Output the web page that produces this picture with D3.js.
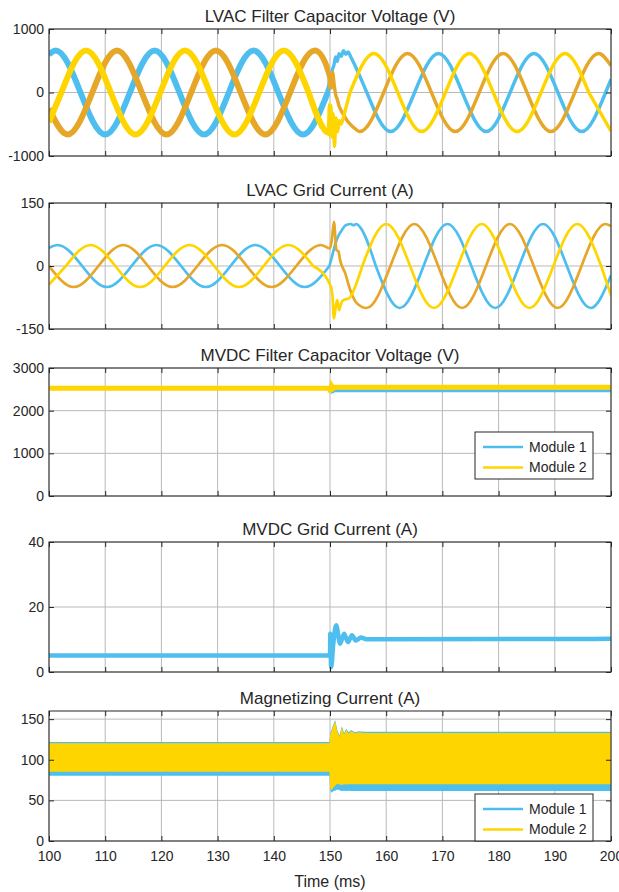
<!DOCTYPE html>
<html><head><meta charset="utf-8">
<script src="https://cdn.jsdelivr.net/npm/d3@7"></script>
<style>
body{margin:0;background:#fff;}
svg{display:block;}
text{font-family:"Liberation Sans",Arial,Helvetica,sans-serif;fill:#262626;}
</style>
</head><body>
<svg id="c" width="619" height="892"></svg>
<script>
// ---------------- DATA ----------------
const titles = ["LVAC Filter Capacitor Voltage (V)","LVAC Grid Current (A)","MVDC Filter Capacitor Voltage (V)","MVDC Grid Current (A)","Magnetizing Current (A)"];
const xTicks = [100,110,120,130,140,150,160,170,180,190,200];
const xLabel = "Time (ms)";
const yTicks1 = [-1000,0,1000];
const yTicks2 = [-150,0,150];
const yTicks3 = [0,1000,2000,3000];
const yTicks4 = [0,20,40];
const yTicks5 = [0,50,100,150];
const legendNames = ["Module 1","Module 2"];

// Panel 1: LVAC filter capacitor voltage (three phases), key points
const vBlueT = [100,101.2,105.6,110.0,114.4,118.8,123.2,127.6,132.0,136.4,140.8,145.2,149.6,150.0,150.4,150.7,151.0,151.3,151.6,152.0,152.4,152.8,153.2,153.7,156.55,160.8,165.05,169.3,173.55,177.8,182.05,186.3,190.55,194.8,199.05,200];
const vBlueV = [600,660,0,-660,0,660,0,-660,0,660,0,-660,0,110,350,430,560,490,610,570,660,600,640,560,0,-615,0,615,0,-615,0,615,0,-615,0,210];
const vOrangeT = [100,103.3,107.7,112.1,116.5,120.9,125.3,129.7,134.1,138.5,142.9,147.3,150.0,150.25,150.45,150.75,151.0,151.3,151.6,152.2,153.1,154.2,155.3,159.55,163.8,168.05,172.3,176.55,180.8,185.05,189.3,193.55,197.8,200];
const vOrangeV = [-253,-660,0,660,0,-660,0,660,0,-660,0,660,250,70,320,120,-30,-110,-210,-320,-450,-550,-615,0,615,0,-615,0,615,0,-615,0,615,420];
const vYellowT = [100,102.2,106.6,111.0,115.4,119.8,124.2,128.6,133.0,137.4,141.8,146.2,149.9,150.15,150.35,150.55,150.8,151.05,151.35,151.65,151.95,152.3,152.8,153.55,157.8,162.05,166.3,170.55,174.8,179.05,183.3,187.55,191.8,196.05,200];
const vYellowV = [-467,0,660,0,-660,0,660,0,-660,0,660,0,-640,-200,-700,-330,-850,-400,-620,-440,-500,-420,-250,0,615,0,-615,0,615,0,-615,0,615,0,-610];

// Panel 2: LVAC grid current
const iBlueT = [100,101.5,105.9,110.3,114.7,119.1,123.5,127.9,132.3,136.7,141.1,145.5,149.9,150.5,151.0,151.5,152.0,152.6,153.2,153.7,154.2,154.7,155.2,158.15,162.4,166.65,170.9,175.15,179.4,183.65,187.9,192.15,196.4,200];
const iBlueV = [43,50,0,-50,0,50,0,-50,0,50,0,-50,0,30,55,72,83,95,99,100,97,100,95,0,-100,0,100,0,-100,0,100,0,-100,-22];
const iOrangeT = [100,104.4,108.8,113.2,117.6,122.0,126.4,130.8,135.2,139.6,144.0,148.4,150.0,150.35,150.7,151.15,151.5,151.8,152.7,153.6,154.8,156.5,160.75,165.0,169.25,173.5,177.75,182.0,186.25,190.5,194.75,199.0,200];
const iOrangeV = [0,-50,0,50,0,-50,0,50,0,-50,0,50,42,65,105,38,35,14,-17,-57,-89,-100,0,100,0,-100,0,100,0,-100,0,100,95];
const iYellowT = [100,103.0,107.4,111.8,116.2,120.6,125.0,129.4,133.8,138.2,142.6,147.0,150.0,150.4,150.7,151.1,151.3,151.6,151.9,152.2,152.8,153.4,154.6,155.75,160.0,164.25,168.5,172.75,177.0,181.25,185.5,189.75,194.0,198.25,200];
const iYellowV = [-44,0,50,0,-50,0,50,0,-50,0,50,0,-44,-65,-125,-90,-81,-105,-93,-83,-79,-77,-45,0,100,0,-100,0,100,0,-100,0,100,0,-70];

// Panel 3: MVDC filter capacitor voltage
const dcV1T = [100,150,150.15,150.4,150.8,200];
const dcV1 = [2520,2520,2580,2440,2465,2465];
const dcV2T = [100,149.9,150.1,150.3,150.6,151,200];
const dcV2 = [2525,2525,2440,2580,2520,2550,2550];

// Panel 4: MVDC grid current
const dcIT = [100,150,150.05,150.2,150.6,151.1,151.8,152.5,153.2,153.9,154.6,155.5,156.5,200];
const dcI = [5.1,5.1,11.8,1.5,9,14.4,8.7,11.8,9.2,11.3,9.7,10.6,10.1,10.2];

// Panel 5: magnetizing current envelopes
const magT = [100,149.9,150.05,150.3,150.6,150.9,151.3,151.7,152.1,152.5,152.9,153.3,153.8,154.4,155.2,156.0,200];
const mag1Hi = [121.8,121.8,133,137.5,143.5,148.8,136.5,130,141.2,133,138.2,133.8,136.6,134,135,134.5,134.5];
const mag1Lo = [80.3,80.3,62,59.5,61.5,62,63.5,62.5,61.5,62,61.5,62,61.5,61.5,61.5,61.5,61.5];
const mag2Hi = [120.3,120.3,131,136,142,147.5,135,128,140,131,137,132,135.5,132.5,134,133,133];
const mag2Lo = [85.3,85.3,64,62.5,66,68,70.5,69.5,69,70,69.5,70,69.8,69.8,69.8,69.8,69.8];

// ---------------- STYLE / LAYOUT ----------------
const colBlue = "#4DBEEE", colOrange = "#E6A628", colYellow = "#FFD500";
const gridCol = "#b9b9b9";
const X0 = 49, X1 = 611;
const layout = [
  {top:29,bottom:156,domain:[-1000,1000],ticks:yTicks1},
  {top:203,bottom:329,domain:[-150,150],ticks:yTicks2},
  {top:368,bottom:496,domain:[0,3000],ticks:yTicks3},
  {top:542,bottom:672,domain:[0,40],ticks:yTicks4},
  {top:711,bottom:841,domain:[0,160],ticks:yTicks5}
];

const svg = d3.select("#c");
svg.append("rect").attr("width",619).attr("height",892).attr("fill","#fff");
const x = d3.scaleLinear().domain([100,200]).range([X0,X1]);
const defs = svg.append("defs");

function wavePath(y,T,V){
  const pts = T.map((t,k)=>[t,V[k]]);
  const zeros = pts.map((p,k)=>p[1]===0?k:-1).filter(k=>k>=0);
  const i0 = zeros[0], iZ = zeros[zeros.length-1];
  const iA = zeros.filter(k=>pts[k][0]<=150).pop();
  const iB = zeros.find(k=>pts[k][0]>=153);
  const nat = d3.line().x(d=>x(d[0])).y(d=>y(d[1])).curve(d3.curveNatural);
  const mon = d3.line().x(d=>x(d[0])).y(d=>y(d[1])).curve(d3.curveMonotoneX);
  const parts = [
    [mon, pts.slice(0,i0+1)],
    [nat, pts.slice(i0,iA+1)],
    [mon, pts.slice(iA,iB+1)],
    [nat, pts.slice(iB,iZ+1)],
    [mon, pts.slice(iZ)]
  ];
  return parts.filter(p=>p[1].length>1).map(p=>p[0](p[1])).join("");
}

const scales = [];
layout.forEach((L,i)=>{
  const y = d3.scaleLinear().domain(L.domain).range([L.bottom,L.top]);
  scales.push(y);
  defs.append("clipPath").attr("id","clip"+i).append("rect")
    .attr("x",X0).attr("y",L.top).attr("width",X1-X0).attr("height",L.bottom-L.top);
  defs.append("clipPath").attr("id","pre"+i).append("rect")
    .attr("x",X0).attr("y",L.top).attr("width",x(150)-X0).attr("height",L.bottom-L.top);
  const g = svg.append("g");
  g.append("g").selectAll("line").data(xTicks).join("line")
    .attr("x1",d=>x(d)).attr("x2",d=>x(d)).attr("y1",L.top).attr("y2",L.bottom)
    .attr("stroke",gridCol).attr("stroke-width",1);
  g.append("g").selectAll("line").data(L.ticks).join("line")
    .attr("x1",X0).attr("x2",X1).attr("y1",d=>y(d)).attr("y2",d=>y(d))
    .attr("stroke",gridCol).attr("stroke-width",1);
  L.g = g;
  svg.append("text").attr("x",(X0+X1)/2).attr("y",L.top-7).attr("text-anchor","middle")
    .attr("font-size",17).text(titles[i]);
});

// ---- Panel 1 ----
(function(){
  const y = scales[0], g = layout[0].g.append("g");
  [[vBlueT,vBlueV,colBlue],[vOrangeT,vOrangeV,colOrange],[vYellowT,vYellowV,colYellow]].forEach(s=>{
    const d = wavePath(y,s[0],s[1]);
    g.append("path").attr("d",d).attr("fill","none").attr("stroke",s[2]).attr("stroke-width",3.4)
      .attr("stroke-linejoin","round").attr("clip-path","url(#clip0)");
    g.append("path").attr("d",d).attr("fill","none").attr("stroke",s[2]).attr("stroke-width",6)
      .attr("stroke-linejoin","round").attr("clip-path","url(#pre0)");
  });
})();

// ---- Panel 2 ----
(function(){
  const y = scales[1], g = layout[1].g.append("g");
  [[iBlueT,iBlueV,colBlue],[iOrangeT,iOrangeV,colOrange],[iYellowT,iYellowV,colYellow]].forEach(s=>{
    g.append("path").attr("d",wavePath(y,s[0],s[1])).attr("fill","none").attr("stroke",s[2])
      .attr("stroke-width",2.7).attr("stroke-linejoin","round").attr("clip-path","url(#clip1)");
  });
})();

// ---- Panel 3 ----
(function(){
  const y = scales[2], g = layout[2].g.append("g").attr("clip-path","url(#clip2)");
  const ln = d3.line().x(d=>x(d[0])).y(d=>y(d[1]));
  g.append("path").attr("d",ln(dcV1T.map((t,k)=>[t,dcV1[k]]))).attr("fill","none").attr("stroke",colBlue).attr("stroke-width",3);
  g.append("path").attr("d",ln(dcV2T.map((t,k)=>[t,dcV2[k]]))).attr("fill","none").attr("stroke",colYellow).attr("stroke-width",5);
})();

// ---- Panel 4 ----
(function(){
  const y = scales[3], g = layout[3].g.append("g").attr("clip-path","url(#clip3)");
  const ln = d3.line().x(d=>x(d[0])).y(d=>y(d[1])).curve(d3.curveMonotoneX);
  g.append("path").attr("d",ln(dcIT.map((t,k)=>[t,dcI[k]]))).attr("fill","none").attr("stroke",colBlue).attr("stroke-width",4.5);
})();

// ---- Panel 5 ----
(function(){
  const y = scales[4], g = layout[4].g.append("g").attr("clip-path","url(#clip4)");
  const ar = (hi,lo)=>d3.area().x(d=>x(d)).y0((d,k)=>y(lo[k])).y1((d,k)=>y(hi[k]));
  g.append("path").attr("d",ar(mag1Hi,mag1Lo)(magT)).attr("fill",colBlue);
  g.append("path").attr("d",ar(mag2Hi,mag2Lo)(magT)).attr("fill",colYellow);
})();

// ---- axes, boxes ----
layout.forEach((L,i)=>{
  const y = scales[i];
  const ax = svg.append("g");
  ax.append("g").attr("transform",`translate(${X0},0)`)
    .call(d3.axisLeft(y).tickValues(L.ticks).tickSize(-5).tickPadding(5).tickFormat(d=>String(d)));
  ax.append("g").attr("transform",`translate(${X1},0)`)
    .call(d3.axisRight(y).tickValues(L.ticks).tickSize(-5).tickFormat(""));
  ax.append("g").attr("transform",`translate(0,${L.top})`)
    .call(d3.axisTop(x).tickValues(xTicks).tickSize(-5).tickFormat(""));
  ax.append("g").attr("transform",`translate(0,${L.bottom})`)
    .call(d3.axisBottom(x).tickValues(xTicks).tickSize(-5).tickPadding(10)
      .tickFormat(i===4 ? (d=>String(d)) : ""));
  ax.selectAll(".domain").remove();
  ax.selectAll(".tick line").attr("stroke","#262626");
  ax.selectAll(".tick text").attr("font-size",14).attr("fill","#262626")
    .attr("font-family",'"Liberation Sans",Arial,sans-serif');
  ax.append("rect").attr("x",X0).attr("y",L.top).attr("width",X1-X0).attr("height",L.bottom-L.top)
    .attr("fill","none").attr("stroke","#262626").attr("stroke-width",1);
});

svg.append("text").attr("x",(X0+X1)/2).attr("y",887).attr("text-anchor","middle")
  .attr("font-size",16).text(xLabel);

// ---- legends ----
function legend(top){
  const g = svg.append("g").attr("transform",`translate(475,${top})`);
  g.append("rect").attr("width",118).attr("height",47).attr("fill","#fff")
    .attr("stroke","#262626").attr("stroke-width",1);
  [colBlue,colYellow].forEach((c,k)=>{
    const yy = 15 + k*20.5;
    g.append("line").attr("x1",8).attr("x2",48).attr("y1",yy).attr("y2",yy)
      .attr("stroke",c).attr("stroke-width",2.5);
    g.append("text").attr("x",54).attr("y",yy).attr("dy","0.35em").attr("font-size",14)
      .text(legendNames[k]);
  });
}
legend(432);
legend(794);
</script>
</body></html>
